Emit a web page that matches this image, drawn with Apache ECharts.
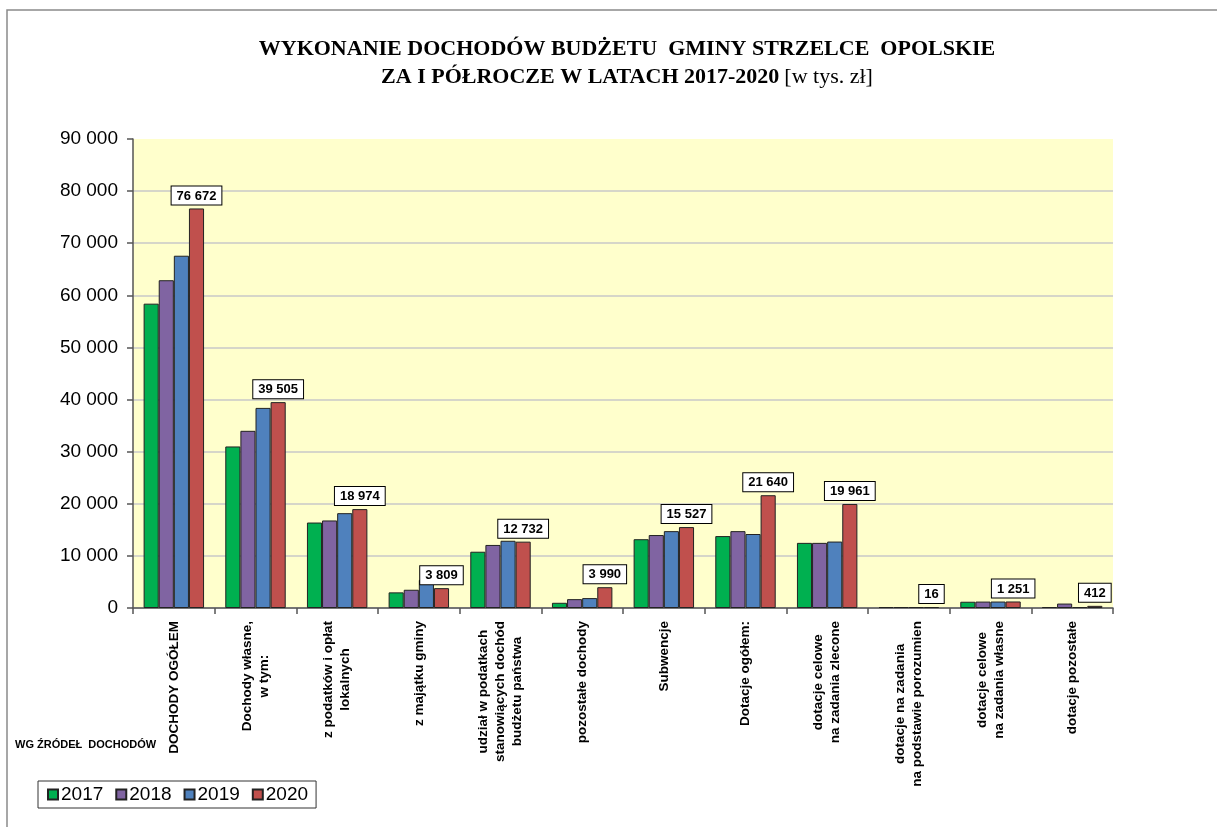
<!DOCTYPE html>
<html>
<head>
<meta charset="utf-8">
<title>Wykonanie dochodów budżetu gminy Strzelce Opolskie</title>
<script src="https://cdn.jsdelivr.net/npm/echarts@6/dist/echarts.min.js"></script>
<style>
  html, body { margin: 0; padding: 0; background: #fff; }
  #chart { width: 1217px; height: 827px; }
</style>
</head>
<body>
<div id="chart"></div>
<script>
// kategorie dochodów (oś X)
const categories = [
  'DOCHODY OGÓŁEM',
  'Dochody własne,\nw tym:',
  'z podatków i opłat\nlokalnych',
  'z majątku gminy',
  'udział w podatkach\nstanowiących dochód\nbudżetu państwa',
  'pozostałe dochody',
  'Subwencje',
  'Dotacje ogółem:',
  'dotacje celowe\nna zadania zlecone',
  'dotacje na zadania\nna podstawie porozumien',
  'dotacje celowe\nna zadania własne',
  'dotacje pozostałe'
]
const years = ['2017', '2018', '2019', '2020']
// wartości w tys. zł
const data2017 = [58400, 31000, 16400, 3000, 10800, 1000, 13200, 13800, 12500, 40, 1200, 60]
const data2018 = [62900, 34000, 16800, 3500, 12100, 1700, 14000, 14750, 12500, 30, 1230, 850]
const data2019 = [67600, 38400, 18200, 5400, 12900, 1900, 14750, 14200, 12750, 30, 1240, 60]
const data2020 = [76672, 39505, 18974, 3809, 12732, 3990, 15527, 21640, 19961, 16, 1251, 412]
const yTicks = [0, 10000, 20000, 30000, 40000, 50000, 60000, 70000, 80000, 90000]

const colors = ['#00B050', '#8064A2', '#4F81BD', '#C0504D']
const sansFont = 'Arial, "Liberation Sans", sans-serif'

function spaced (v) {
  return String(v).replace(/\B(?=(\d{3})+(?!\d))/g, ' ')
}

function makeSeries (name, values, idx) {
  const s = {
    name: name,
    type: 'bar',
    data: values,
    barGap: '0%',
    barCategoryGap: '26%',
    barMinHeight: 1,
    itemStyle: {
      color: colors[idx],
      borderColor: '#222',
      borderWidth: 1
    }
  }
  if (idx === 3) {
    // tylko rok 2020 ma etykiety w ramce
    s.label = {
      show: true,
      position: 'top',
      distance: 4,
      color: '#000',
      fontFamily: sansFont,
      fontWeight: 'bold',
      fontSize: 13,
      backgroundColor: '#fff',
      borderColor: '#000',
      borderWidth: 1,
      padding: [3, 5, 2, 5],
      formatter: p => spaced(p.value)
    }
  }
  return s
}

const options = {
  backgroundColor: '#fff',
  animation: false,
  title: {
    left: 622,
    top: 30,
    textAlign: 'center',
    text: '{b|WYKONANIE DOCHODÓW BUDŻETU  GMINY STRZELCE  OPOLSKIE}\n{b|ZA I PÓŁROCZE W LATACH 2017-2020} {n|[w tys. zł]}',
    textStyle: {
      rich: {
        b: {
          fontFamily: '"Liberation Serif", "Times New Roman", serif',
          fontWeight: 'bold',
          fontSize: 22,
          lineHeight: 28,
          color: '#000'
        },
        n: {
          fontFamily: '"Liberation Serif", "Times New Roman", serif',
          fontWeight: 'normal',
          fontSize: 22,
          lineHeight: 28,
          color: '#000'
        }
      }
    }
  },
  legend: {
    data: years,
    left: 38,
    top: 781,
    orient: 'horizontal',
    icon: 'rect',
    itemWidth: 10,
    itemHeight: 10,
    itemGap: 12,
    padding: [4, 8, 4, 9],
    borderColor: '#333',
    borderWidth: 1,
    textStyle: {
      fontFamily: sansFont,
      fontSize: 19,
      color: '#000',
      padding: [0, 0, 0, -2]
    }
  },
  grid: {
    left: 133,
    right: 104,
    top: 139,
    bottom: 219,
    show: true,
    backgroundColor: '#FFFFCC',
    borderWidth: 0,
    containLabel: false,
    outerBoundsMode: 'none'
  },
  xAxis: {
    type: 'category',
    data: categories,
    boundaryGap: true,
    axisLine: {
      lineStyle: { color: '#555', width: 1.5 }
    },
    axisTick: {
      show: true,
      length: 6,
      lineStyle: { color: '#555', width: 1.5 }
    },
    axisLabel: {
      interval: 0,
      rotate: 90,
      margin: 13,
      color: '#000',
      fontFamily: sansFont,
      fontWeight: 'bold',
      fontSize: 13.5,
      lineHeight: 17,
      formatter: function (value) {
        return value.split('\n').map(l => '{c|' + l + '}').join('\n')
      },
      rich: {
        c: {
          align: 'center',
          color: '#000',
          fontFamily: sansFont,
          fontWeight: 'bold',
          fontSize: 13.5,
          lineHeight: 17
        }
      }
    }
  },
  yAxis: {
    type: 'value',
    min: yTicks[0],
    max: yTicks[yTicks.length - 1],
    interval: yTicks[1] - yTicks[0],
    axisLine: {
      show: true,
      lineStyle: { color: '#555', width: 1.5 }
    },
    axisTick: {
      show: true,
      length: 6,
      lineStyle: { color: '#555', width: 1.5 }
    },
    axisLabel: {
      margin: 15,
      color: '#000',
      fontFamily: sansFont,
      fontSize: 19,
      formatter: v => spaced(v)
    },
    splitLine: {
      show: true,
      showMaxLine: false,
      lineStyle: { color: '#c8c8c8', width: 1.5 }
    }
  },
  graphic: [
    {
      // ramka obrazka
      type: 'rect',
      silent: true,
      z: -10,
      shape: { x: 7, y: 10, width: 1400, height: 1000 },
      style: { fill: 'none', stroke: '#8a8a8a', lineWidth: 1.5 }
    },
    {
      type: 'text',
      left: 15,
      top: 739,
      style: {
        text: 'WG ŹRÓDEŁ  DOCHODÓW',
        fill: '#000',
        font: 'bold 11px Arial, "Liberation Sans", sans-serif'
      }
    }
  ],
  series: [
    makeSeries(years[0], data2017, 0),
    makeSeries(years[1], data2018, 1),
    makeSeries(years[2], data2019, 2),
    makeSeries(years[3], data2020, 3)
  ]
}

const chart = echarts.init(document.getElementById('chart'))
chart.setOption(options)
</script>
</body>
</html>
